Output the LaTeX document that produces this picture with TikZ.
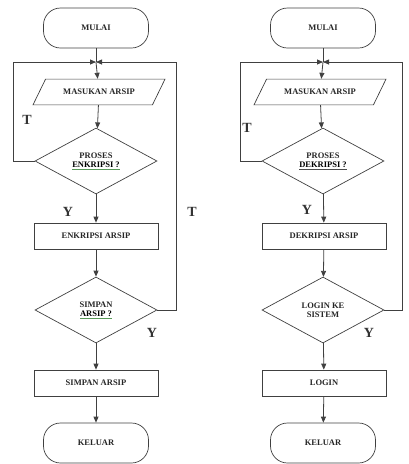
\documentclass[tikz,border=0pt]{standalone}
\usepackage{fontspec}
\setmainfont{Liberation Serif}
\usetikzlibrary{arrows.meta,shapes.geometric}
\definecolor{linegray}{gray}{0.25}
\definecolor{checkgreen}{rgb}{0.35,0.6,0.35}
\newcommand{\markword}[2]{{\color{#1}\underline{\color{black}#2}}}
\tikzset{
  boxtext/.style={font=\fontsize{8.5}{9.5}\selectfont\bfseries, align=center, text=black!85},
  terminal/.style={boxtext, draw=linegray, line width=0.7pt, rounded corners=17pt,
    minimum width=105pt, minimum height=40pt},
  inputbox/.style={boxtext, draw=linegray, line width=0.7pt, trapezium,
    trapezium left angle=64, trapezium right angle=116, trapezium stretches body,
    inner xsep=0pt, inner ysep=10pt, minimum width=132pt},
  decision/.style={boxtext, draw=linegray, line width=0.7pt, diamond, inner sep=0pt,
    minimum width=122pt, minimum height=66pt},
  process/.style={boxtext, draw=linegray, line width=0.7pt,
    minimum width=124pt, minimum height=26pt},
  flow/.style={-{Triangle[length=6pt,width=5pt]}, linegray, line width=0.8pt},
  link/.style={linegray, line width=0.8pt},
  answer/.style={font=\fontsize{14}{14}\selectfont\bfseries, text=black!80}
}

\begin{document}
\begin{tikzpicture}[x=1pt,y=-1pt]
  \useasboundingbox (0,0) rectangle (409,464);

  % enkripsi
  \node[terminal] (mulaienc) at (96,28) {MULAI};
  \coordinate (joinenc) at (96,62);
  \node[inputbox] (inputenc) at (99,92) {MASUKAN ARSIP};
  \node[decision] (askenc) at (96,161) {PROSES\\\markword{checkgreen}{ENKRIPSI ?}};
  \node[process] (doenc) at (96,236) {ENKRIPSI ARSIP};
  \node[decision] (asksave) at (96,310) {SIMPAN\\\markword{checkgreen}{ARSIP ?}};
  \node[process] (dosave) at (96,383) {SIMPAN ARSIP};
  \node[terminal] (keluarenc) at (96,443) {KELUAR};

  \draw[link] (mulaienc) -- (joinenc);
  \draw[flow] (joinenc) -- (inputenc);
  \draw[flow] (inputenc) -- (askenc);
  \draw[flow] (askenc) -- (doenc);
  \draw[flow] (doenc) -- (asksave);
  \draw[flow] (asksave) -- (dosave);
  \draw[flow] (dosave) -- (keluarenc);
  \draw[flow] (askenc.west) -- (13,161) -- (13,62) -- (joinenc);
  \draw[flow] (asksave.east) -- (176,310) -- (176,62) -- (joinenc);

  \node[answer] (tenc) at (27,120) {T};
  \node[answer] (yenc) at (68,212) {Y};
  \node[answer] (tsave) at (192,212) {T};
  \node[answer] (ysave) at (152,333) {Y};

  % dekripsi
  \node[terminal] (mulaidec) at (323,28) {MULAI};
  \coordinate (joindec) at (323,62);
  \node[inputbox] (inputdec) at (320,92) {MASUKAN ARSIP};
  \node[decision] (askdec) at (323,161) {PROSES\\\markword{black!70}{DEKRIPSI ?}};
  \node[process] (dodec) at (324,236) {DEKRIPSI ARSIP};
  \node[decision] (asklogin) at (323,310) {LOGIN KE\\SISTEM};
  \node[process] (dologin) at (324,383) {LOGIN};
  \node[terminal] (keluardec) at (323,443) {KELUAR};

  \draw[link] (mulaidec) -- (joindec);
  \draw[flow] (joindec) -- (inputdec);
  \draw[flow] (inputdec) -- (askdec);
  \draw[flow] (askdec) -- (dodec);
  \draw[flow] (dodec) -- (asklogin);
  \draw[flow] (asklogin) -- (dologin);
  \draw[flow] (dologin) -- (keluardec);
  \draw[flow] (askdec.west) -- (240,161) -- (240,62) -- (joindec);
  \draw[flow] (asklogin.east) -- (402,310) -- (402,62) -- (joindec);

  \node[answer] (tdec) at (247,128) {T};
  \node[answer] (ydec) at (307,210) {Y};
  \node[answer] (ylogin) at (369,333) {Y};
\end{tikzpicture}
\end{document}
